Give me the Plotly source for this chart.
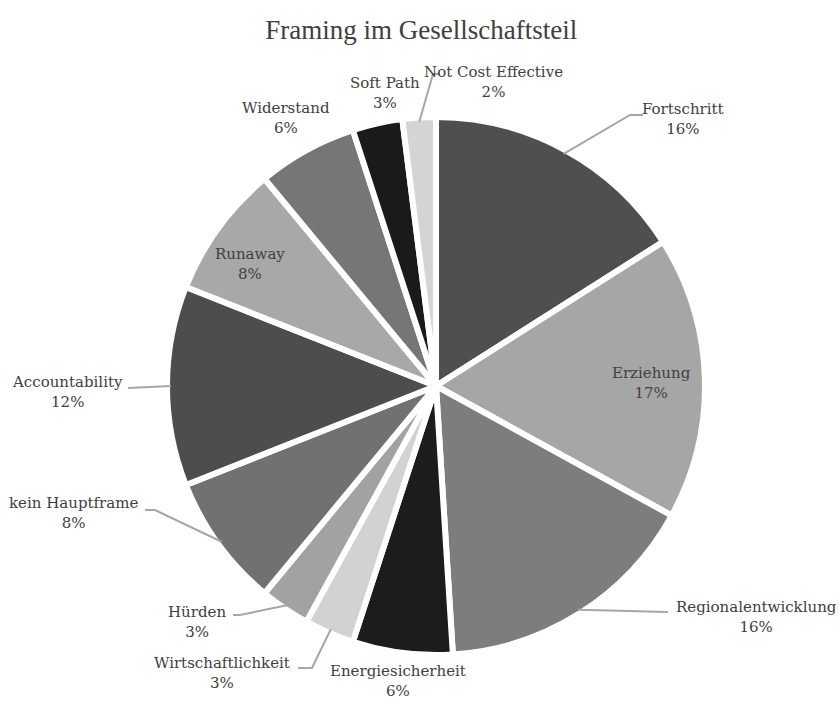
import math
import plotly.graph_objects as go

# ---- data ----
labels = ["Fortschritt", "Erziehung", "Regionalentwicklung", "Energiesicherheit",
          "Wirtschaftlichkeit", "Hürden", "kein Hauptframe", "Accountability",
          "Runaway", "Widerstand", "Soft Path", "Not Cost Effective"]
values = [16, 17, 16, 6, 3, 3, 8, 12, 8, 6, 3, 2]
colors = ["#4f4f4f", "#a6a6a6", "#7d7d7d", "#1c1c1c", "#d2d2d2", "#a2a2a2",
          "#717171", "#4d4d4d", "#a8a8a8", "#767676", "#1a1a1a", "#d4d4d4"]
title = "Framing im Gesellschaftsteil"

# ---- layout constants (pixels) ----
W, H = 839, 702
CX, CY, R = 436, 386, 269
TOP, BOT = CY - R, CY + R

def px(x):
    return x / W

def py(y):
    return (BOT - y) / (BOT - TOP)

# label block centres and leader-line elbows (layout only)
label_pos = {
    "Fortschritt": (683, 119, [(630, 115), (643, 115)]),
    "Erziehung": (651, 383, None),
    "Regionalentwicklung": (756, 617, [(668, 612)]),
    "Energiesicherheit": (398, 681, None),
    "Wirtschaftlichkeit": (222, 673, [(312, 668), (298, 668)]),
    "Hürden": (197, 622, [(240, 615), (233, 615)]),
    "kein Hauptframe": (73, 513, [(155, 510), (145, 510)]),
    "Accountability": (67, 392, [(128, 388)]),
    "Runaway": (250, 264, None),
    "Widerstand": (286, 118, None),
    "Soft Path": (385, 93, None),
    "Not Cost Effective": (493, 82, [(433, 74), (440, 74)]),
}

fig = go.Figure(go.Pie(
    labels=labels, values=values, sort=False, direction="clockwise", rotation=0,
    marker=dict(colors=colors, line=dict(color="white", width=6)),
    textinfo="none", hoverinfo="label+percent", showlegend=False,
    domain=dict(x=[(CX - R) / W, (CX + R) / W], y=[0, 1]),
))

total = sum(values)
cum = 0
annotations = []
shapes = []
for lab, v in zip(labels, values):
    mid = (cum + v / 2) / total * 2 * math.pi
    cum += v
    lx, ly, elbows = label_pos[lab]
    pct = round(v / total * 100)
    annotations.append(dict(
        x=px(lx), y=py(ly), xref="paper", yref="paper", showarrow=False,
        text=f"{lab}<br>{pct}%", align="center",
        font=dict(family="DejaVu Serif", size=15, color="#404040"),
        xanchor="center", yanchor="middle",
    ))
    if elbows:
        ax = CX + (R - 4) * math.sin(mid)
        ay = CY - (R - 4) * math.cos(mid)
        pts = [(ax, ay)] + elbows
        path = "M " + " L ".join(f"{px(x):.5f},{py(y):.5f}" for x, y in pts)
        shapes.append(dict(type="path", path=path, xref="paper", yref="paper",
                           line=dict(color="#a6a6a6", width=2)))

fig.update_layout(
    width=W, height=H,
    margin=dict(l=0, r=0, t=TOP, b=H - BOT),
    paper_bgcolor="white", plot_bgcolor="white",
    title=dict(text=title, x=0.502, xanchor="center", y=1 - 30 / H, yanchor="middle",
               font=dict(family="Liberation Serif", size=27, color="#404040")),
    annotations=annotations, shapes=shapes,
)
fig.write_html("out.html", config={"displayModeBar": False},
               post_script="document.body.style.margin='0';document.body.style.overflow='hidden';")
